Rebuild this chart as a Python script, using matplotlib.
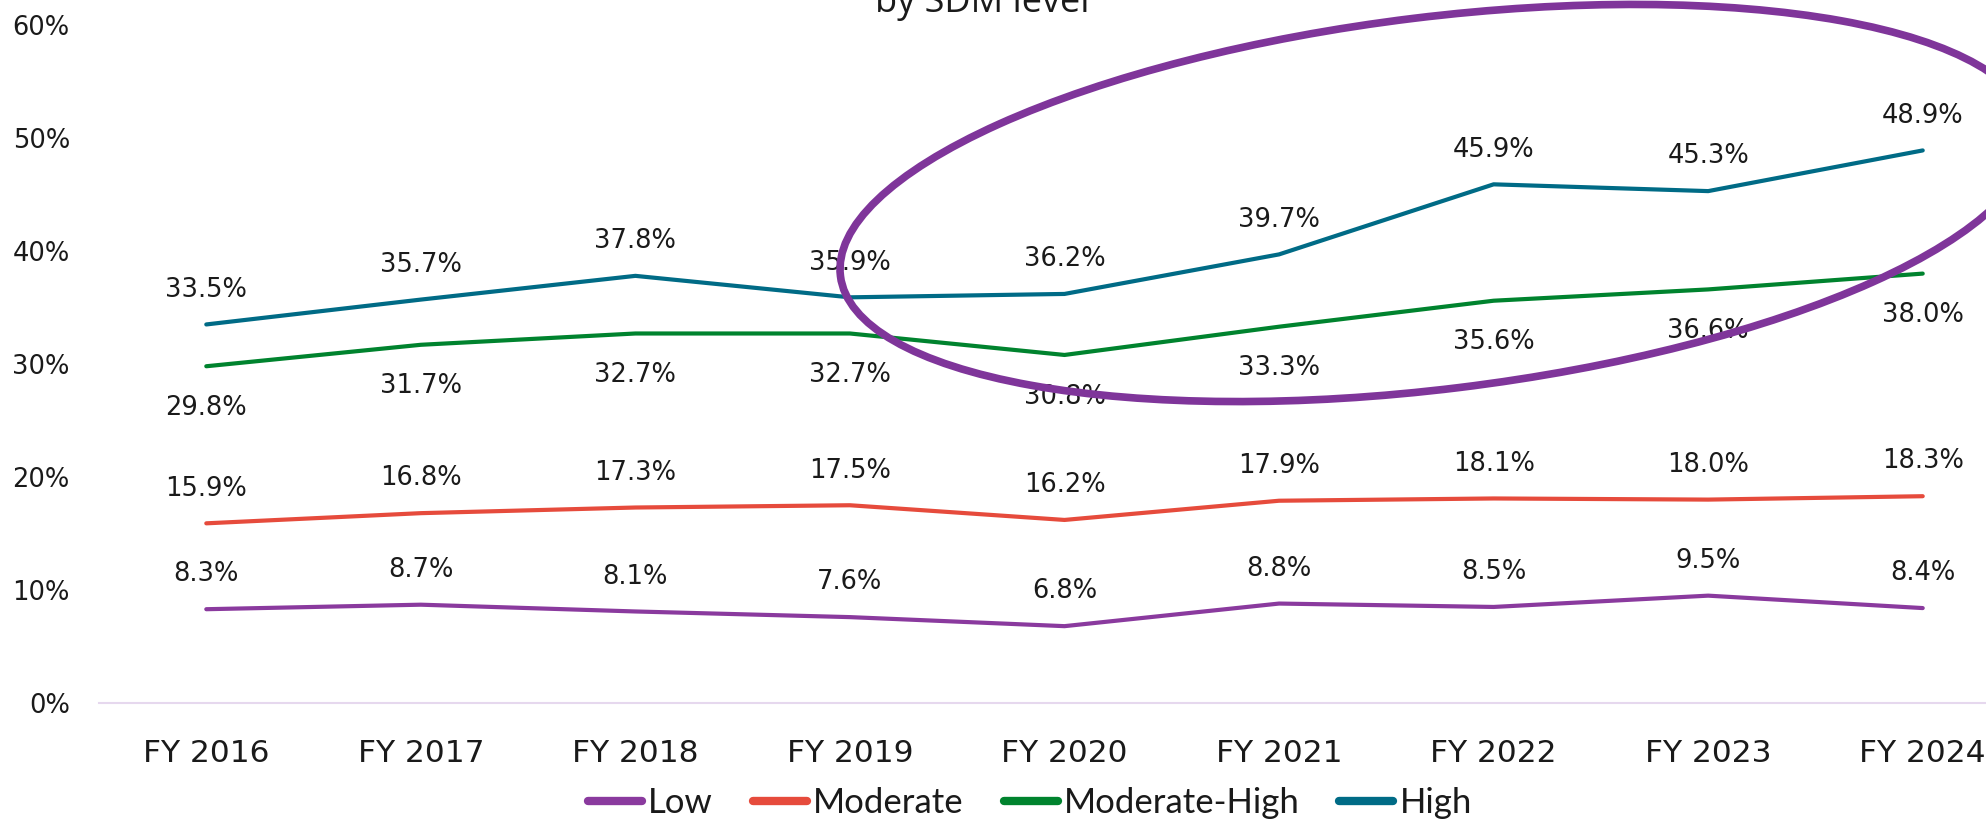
import matplotlib
matplotlib.use("Agg")
import matplotlib.pyplot as plt
from matplotlib.patches import Ellipse
from matplotlib import font_manager

years = ["FY 2016", "FY 2017", "FY 2018", "FY 2019", "FY 2020",
         "FY 2021", "FY 2022", "FY 2023", "FY 2024"]
low = [8.3, 8.7, 8.1, 7.6, 6.8, 8.8, 8.5, 9.5, 8.4]
moderate = [15.9, 16.8, 17.3, 17.5, 16.2, 17.9, 18.1, 18.0, 18.3]
mod_high = [29.8, 31.7, 32.7, 32.7, 30.8, 33.3, 35.6, 36.6, 38.0]
high = [33.5, 35.7, 37.8, 35.9, 36.2, 39.7, 45.9, 45.3, 48.9]
series_names = ["Low", "Moderate", "Moderate-High", "High"]
yticks = [0, 10, 20, 30, 40, 50, 60]
title = "by SDM level"

colors = ["#8A3A9E", "#E64B3C", "#00832E", "#006B86"]
label_side = [1, 1, -1, 1]

W, H = 1986, 822
fig = plt.figure(figsize=(W / 100, H / 100), dpi=100)

left = 99 / W
right = 2030 / W
bottom = (H - 703) / H
top = (H - 25) / H
ax = fig.add_axes([left, bottom, right - left, top - bottom])

x = list(range(len(years)))
all_series = [low, moderate, mod_high, high]
lines = []
for vals, c, name, side in zip(all_series, colors, series_names, label_side):
    ln, = ax.plot(x, vals, color=c, lw=3.0, solid_capstyle="round",
                  solid_joinstyle="round", label=name, clip_on=False)
    lines.append(ln)
    for xi, v in zip(x, vals):
        ax.annotate(f"{v:.1f}%", (xi, v), xytext=(0, 25 if side > 0 else -30),
                    textcoords="offset points", ha="center", va="center",
                    fontsize=18.5, color="#1a1a1a", family="DejaVu Sans")

ax.set_xlim(-0.5, len(years) - 0.5)
ax.set_ylim(0, 60)
ax.set_xticks(x)
ax.set_xticklabels(years, fontsize=22.5, color="#1a1a1a")
ax.set_yticks(yticks)
ax.set_yticklabels([f"{t}%" for t in yticks], fontsize=18.5, color="#1a1a1a")
ax.tick_params(axis="x", length=0, pad=26)
ax.tick_params(axis="y", length=0, pad=21)
for s in ["top", "right", "left"]:
    ax.spines[s].set_visible(False)
ax.spines["bottom"].set_color("#E6D8EE")
ax.spines["bottom"].set_linewidth(1.5)

# legend font
avail = {f.name for f in font_manager.fontManager.ttflist}
leg_font = "Lato" if "Lato" in avail else "DejaVu Sans"
tmp = fig.text(0, 0, "Moderate-High", fontsize=20, family=leg_font)
fig.canvas.draw()
wpx = tmp.get_window_extent().width
tmp.remove()
leg_size = 20 * 236 / wpx
em = leg_size * 100 / 72

leg = fig.legend(handles=lines, labels=series_names, loc="center",
                 bbox_to_anchor=(1030 / W, (H - 803) / H), ncol=4, frameon=False,
                 prop={"family": leg_font, "size": leg_size},
                 handlelength=54 / em, handletextpad=6 / em,
                 columnspacing=40 / em, borderaxespad=0,
                 labelcolor="#1a1a1a")
for h in leg.legend_handles:
    h.set_linewidth(6)
    h.set_solid_capstyle("round")

fig.text(982 / W, (H - 12) / H, title, ha="center", va="baseline",
         fontsize=26, family="Open Sans", color="#1a1a1a")

# annotation ellipse (overlay in figure pixel coords)
ov = fig.add_axes([0, 0, 1, 1], facecolor="none")
ov.set_xlim(0, W)
ov.set_ylim(0, H)
ov.axis("off")
ov.add_patch(Ellipse((1436, H - 203), width=2 * 600, height=2 * 186, angle=7,
                     fill=False, edgecolor="#7F359A", lw=5.5))

fig.savefig("out.png", dpi=100)
